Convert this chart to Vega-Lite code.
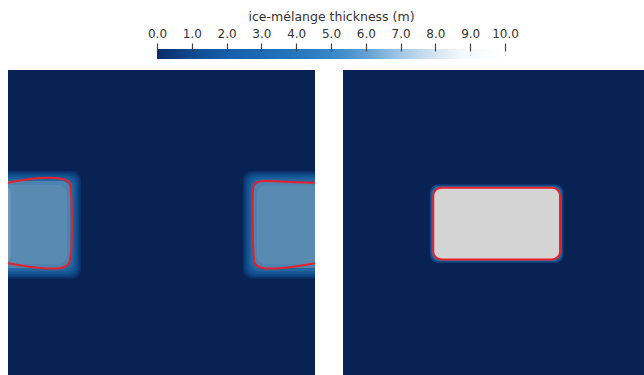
{
  "$schema": "https://vega.github.io/schema/vega-lite/v6.json",
  "padding": {"left": 8, "top": 10, "right": 0, "bottom": 0},
  "spacing": 11,
  "config": {"view": {"stroke": null}, "font": "DejaVu Sans"},
  "datasets": {
    "bar": [{"lo": 0, "hi": 10}],
    "mel_a": [
      {"part": "sea", "x": -10, "x2": 110, "y": -10, "y2": 110, "v": 0},
      {"part": "west halo 6", "x": -10, "x2": 23.8, "y": 33.0, "y2": 68.2, "v": 0.5},
      {"part": "west halo 5", "x": -10, "x2": 23.3, "y": 33.5, "y2": 67.7, "v": 1.1},
      {"part": "west halo 4", "x": -10, "x2": 22.8, "y": 34.0, "y2": 67.2, "v": 1.8},
      {"part": "west halo 3", "x": -10, "x2": 22.3, "y": 34.5, "y2": 66.7, "v": 2.6},
      {"part": "west halo 2", "x": -10, "x2": 21.8, "y": 35.0, "y2": 66.2, "v": 3.4},
      {"part": "west halo 1", "x": -10, "x2": 21.3, "y": 35.5, "y2": 65.7, "v": 4.3},
      {"part": "west core", "x": -10, "x2": 20.4, "y": 36.3, "y2": 64.8, "v": 5.9},
      {"part": "west inner", "x": -10, "x2": 19.2, "y": 37.5, "y2": 63.5, "v": 6.15},
      {"part": "west edge", "x": -10, "x2": 0.9, "y": 37.5, "y2": 63.5, "v": 6.6},
      {"part": "east halo 6", "x": 76.5, "x2": 110, "y": 33.0, "y2": 68.2, "v": 0.5},
      {"part": "east halo 5", "x": 77.0, "x2": 110, "y": 33.5, "y2": 67.7, "v": 1.1},
      {"part": "east halo 4", "x": 77.5, "x2": 110, "y": 34.0, "y2": 67.2, "v": 1.8},
      {"part": "east halo 3", "x": 78.0, "x2": 110, "y": 34.5, "y2": 66.7, "v": 2.6},
      {"part": "east halo 2", "x": 78.5, "x2": 110, "y": 35.0, "y2": 66.2, "v": 3.4},
      {"part": "east halo 1", "x": 79.0, "x2": 110, "y": 35.5, "y2": 65.7, "v": 4.3},
      {"part": "east core", "x": 79.9, "x2": 110, "y": 36.6, "y2": 64.7, "v": 5.9},
      {"part": "east inner", "x": 81.1, "x2": 110, "y": 37.8, "y2": 63.5, "v": 6.15}
    ],
    "ring_a": [
      {"blob": "west", "i": 0, "x": -1, "y": 37.0},
      {"blob": "west", "i": 1, "x": 10.4, "y": 35.3},
      {"blob": "west", "i": 2, "x": 17.5, "y": 35.6},
      {"blob": "west", "i": 3, "x": 19.8, "y": 36.6},
      {"blob": "west", "i": 4, "x": 20.5, "y": 40.0},
      {"blob": "west", "i": 5, "x": 20.8, "y": 48.4},
      {"blob": "west", "i": 6, "x": 20.5, "y": 60.0},
      {"blob": "west", "i": 7, "x": 19.6, "y": 63.5},
      {"blob": "west", "i": 8, "x": 17.5, "y": 64.6},
      {"blob": "west", "i": 9, "x": 11.5, "y": 64.8},
      {"blob": "west", "i": 10, "x": -1, "y": 63.0},
      {"blob": "east", "i": 0, "x": 101, "y": 36.9},
      {"blob": "east", "i": 1, "x": 90, "y": 36.5},
      {"blob": "east", "i": 2, "x": 82, "y": 36.4},
      {"blob": "east", "i": 3, "x": 80.2, "y": 37.4},
      {"blob": "east", "i": 4, "x": 79.7, "y": 42.0},
      {"blob": "east", "i": 5, "x": 79.7, "y": 48.3},
      {"blob": "east", "i": 6, "x": 80.0, "y": 60.0},
      {"blob": "east", "i": 7, "x": 80.5, "y": 63.3},
      {"blob": "east", "i": 8, "x": 82.5, "y": 64.6},
      {"blob": "east", "i": 9, "x": 88.6, "y": 64.8},
      {"blob": "east", "i": 10, "x": 101, "y": 63.0}
    ],
    "mel_b": [
      {"part": "sea", "x": -10, "x2": 110, "y": -10, "y2": 110, "v": 0},
      {"part": "halo 2", "x": 28.3, "x2": 71.8, "y": 37.4, "y2": 63.0, "v": 1.5},
      {"part": "halo 1", "x": 28.8, "x2": 71.3, "y": 37.9, "y2": 62.5, "v": 4.5},
      {"part": "core", "x": 29.4, "x2": 70.7, "y": 38.5, "y2": 61.9, "v": 10}
    ],
    "rim_b": [
      {"x": 29.4, "x2": 70.7, "y": 38.5, "y2": 61.9}
    ]
  },
  "resolve": {"scale": {"x": "independent", "y": "independent", "color": "independent"}},
  "vconcat": [
    {
      "width": 636,
      "height": 10,
      "data": {"name": "bar"},
      "mark": {
        "type": "rect",
        "color": {
          "gradient": "linear", "x1": 0, "x2": 1, "y1": 0, "y2": 0,
          "stops": [
            {"offset": 0.0, "color": "#0b2a66"},
            {"offset": 0.1, "color": "#0f4a92"},
            {"offset": 0.2, "color": "#155eaa"},
            {"offset": 0.3, "color": "#1b6ab6"},
            {"offset": 0.4, "color": "#2676be"},
            {"offset": 0.5, "color": "#3785c8"},
            {"offset": 0.6, "color": "#62a0d4"},
            {"offset": 0.7, "color": "#a3c7e5"},
            {"offset": 0.8, "color": "#d5e5f1"},
            {"offset": 0.88, "color": "#f5f9fc"},
            {"offset": 1.0, "color": "#ffffff"}
          ]
        }
      },
      "encoding": {
        "x": {
          "field": "lo", "type": "quantitative",
          "scale": {"domain": [-4.282, 13.994], "nice": false, "zero": false},
          "axis": {
            "orient": "top", "values": [0, 1, 2, 3, 4, 5, 6, 7, 8, 9, 10], "format": ".1f",
            "domain": false, "grid": false, "ticks": true, "tickSize": 8, "tickColor": "#444444", "tickWidth": 1.2, "tickOpacity": 1,
            "offset": -2, "zindex": 2, "labelFontSize": 12, "labelColor": "#333", "labelPadding": 3,
            "title": "ice-mélange thickness (m)", "titleFontSize": 12.5, "titleFontWeight": "normal",
            "titleColor": "#333", "titlePadding": 4, "titleX": 323, "titleAlign": "center"
          }
        },
        "x2": {"field": "hi"}
      }
    },
    {
      "hconcat": [
        {
          "width": 307,
          "height": 306,
          "layer": [
            {
              "data": {"name": "mel_a"},
              "mark": {"type": "rect", "cornerRadius": 9, "clip": true},
              "encoding": {
                "x": {"field": "x", "type": "quantitative", "scale": {"domain": [0, 100], "nice": false, "zero": false}, "axis": null},
                "x2": {"field": "x2"},
                "y": {"field": "y", "type": "quantitative", "scale": {"domain": [0, 100], "nice": false, "zero": false, "reverse": true}, "axis": null},
                "y2": {"field": "y2"},
                "color": {
                  "field": "v", "type": "quantitative", "legend": null,
                  "scale": {
                    "domain": [0, 1, 2, 3, 4, 5, 6, 7, 8, 8.8, 10],
                    "range": ["#0b2a66", "#0f4a92", "#155eaa", "#1b6ab6", "#2676be", "#3785c8", "#62a0d4", "#a3c7e5", "#d5e5f1", "#f5f9fc", "#ffffff"],
                    "interpolate": "rgb"
                  }
                }
              }
            },
            {
              "data": {"values": [{"shade": "lighting"}]},
              "mark": {"type": "rect", "color": "#000000", "opacity": 0.17},
              "encoding": {}
            },
            {
              "data": {"name": "ring_a"},
              "mark": {"type": "line", "color": "#ea1f28", "strokeWidth": 2, "interpolate": "catmull-rom", "clip": true},
              "encoding": {
                "x": {"field": "x", "type": "quantitative", "scale": {"domain": [0, 100], "nice": false, "zero": false}, "axis": null},
                "y": {"field": "y", "type": "quantitative", "scale": {"domain": [0, 100], "nice": false, "zero": false, "reverse": true}, "axis": null},
                "detail": {"field": "blob"},
                "order": {"field": "i"}
              }
            }
          ]
        },
        {
          "width": 301,
          "height": 306,
          "layer": [
            {
              "data": {"name": "mel_b"},
              "mark": {"type": "rect", "cornerRadius": 8, "clip": true},
              "encoding": {
                "x": {"field": "x", "type": "quantitative", "scale": {"domain": [0, 98.05], "nice": false, "zero": false}, "axis": null},
                "x2": {"field": "x2"},
                "y": {"field": "y", "type": "quantitative", "scale": {"domain": [0, 100], "nice": false, "zero": false, "reverse": true}, "axis": null},
                "y2": {"field": "y2"},
                "color": {
                  "field": "v", "type": "quantitative", "legend": null,
                  "scale": {
                    "domain": [0, 1, 2, 3, 4, 5, 6, 7, 8, 8.8, 10],
                    "range": ["#0b2a66", "#0f4a92", "#155eaa", "#1b6ab6", "#2676be", "#3785c8", "#62a0d4", "#a3c7e5", "#d5e5f1", "#f5f9fc", "#ffffff"],
                    "interpolate": "rgb"
                  }
                }
              }
            },
            {
              "data": {"values": [{"shade": "lighting"}]},
              "mark": {"type": "rect", "color": "#000000", "opacity": 0.17},
              "encoding": {}
            },
            {
              "data": {"name": "rim_b"},
              "mark": {"type": "rect", "filled": false, "stroke": "#ea1f28", "strokeWidth": 2, "cornerRadius": 8, "clip": true},
              "encoding": {
                "x": {"field": "x", "type": "quantitative", "scale": {"domain": [0, 98.05], "nice": false, "zero": false}, "axis": null},
                "x2": {"field": "x2"},
                "y": {"field": "y", "type": "quantitative", "scale": {"domain": [0, 100], "nice": false, "zero": false, "reverse": true}, "axis": null},
                "y2": {"field": "y2"}
              }
            }
          ]
        }
      ],
      "spacing": 28,
      "resolve": {"scale": {"x": "independent", "y": "independent", "color": "independent"}}
    }
  ]
}
